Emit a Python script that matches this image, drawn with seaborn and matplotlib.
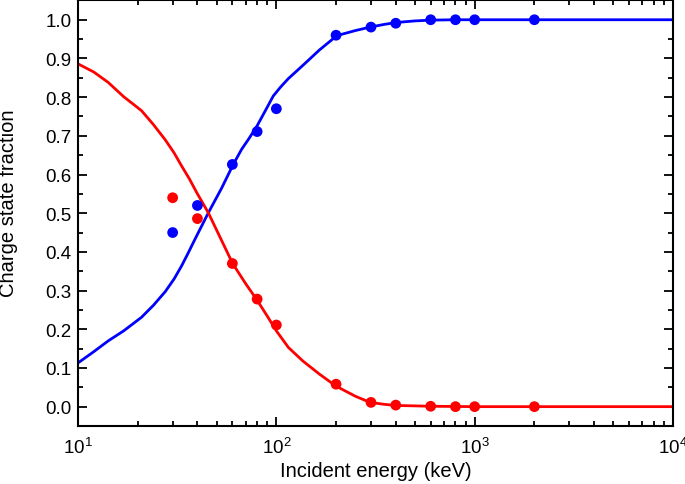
import numpy as np
import pandas as pd
import matplotlib
matplotlib.use("Agg")
import matplotlib.pyplot as plt
import matplotlib.ticker as mticker
import seaborn as sns

# Measured data points
energy_pts = [30, 40, 60, 80, 100, 200, 300, 400, 600, 800, 1000, 2000]
blue_pts = [0.45, 0.52, 0.626, 0.711, 0.770, 0.960, 0.981, 0.991, 1.0, 1.0, 1.0, 1.0]
red_pts = [0.54, 0.486, 0.370, 0.278, 0.211, 0.058, 0.011, 0.004, 0.001, 0.0, 0.0, 0.0]

# Fitted curves
red_curve_E = [10, 12, 14.2, 17, 20.9, 24, 27.5, 30.5, 33.3, 36.5, 39.7, 45.4, 52, 60.2, 70, 80, 90, 100, 115, 136, 165, 200, 250, 297, 350, 404, 500, 600, 800, 1000, 10000]
red_curve_v = [0.886, 0.865, 0.838, 0.801, 0.765, 0.729, 0.690, 0.656, 0.622, 0.588, 0.553, 0.501, 0.438, 0.370, 0.318, 0.275, 0.234, 0.196, 0.153, 0.118, 0.084, 0.053, 0.027, 0.011, 0.006, 0.003, 0.002, 0.001, 0.0005, 0.0, 0.0]
blue_curve_E = [10, 12, 14.2, 17, 20.9, 24, 27.5, 30.5, 33.3, 36, 38.9, 45.4, 53, 60.6, 66.8, 73, 80, 88, 96.5, 105, 115, 136, 165, 202, 250, 297, 350, 404, 500, 600, 800, 1000, 10000]
blue_curve_v = [0.113, 0.142, 0.170, 0.196, 0.231, 0.262, 0.297, 0.330, 0.364, 0.398, 0.433, 0.501, 0.565, 0.626, 0.665, 0.694, 0.726, 0.765, 0.803, 0.826, 0.848, 0.882, 0.922, 0.959, 0.972, 0.981, 0.988, 0.993, 0.997, 0.999, 1.0, 1.0, 1.0]

sns.set_style("ticks")
plt.rcParams["font.family"] = ["Liberation Sans", "DejaVu Sans"]
plt.rcParams["mathtext.fontset"] = "custom"
plt.rcParams["mathtext.rm"] = "Liberation Sans"
plt.rcParams["mathtext.it"] = "Liberation Sans"

fig = plt.figure(figsize=(6.85, 4.85), dpi=100)
ax = fig.add_axes([0.1139, 0.1196, 0.8686, 0.8775])

df_red = pd.DataFrame({"E": red_curve_E, "v": red_curve_v})
df_blue = pd.DataFrame({"E": blue_curve_E, "v": blue_curve_v})
sns.lineplot(data=df_blue, x="E", y="v", ax=ax, color="#0000ff", linewidth=2.0, sort=False)
sns.lineplot(data=df_red, x="E", y="v", ax=ax, color="#ff0000", linewidth=2.0, sort=False)

df_pts = pd.DataFrame({"E": energy_pts, "blue": blue_pts, "red": red_pts})
sns.scatterplot(data=df_pts, x="E", y="blue", ax=ax, color="#0000ff", s=60, edgecolor="none", zorder=5)
sns.scatterplot(data=df_pts, x="E", y="red", ax=ax, color="#ff0000", s=60, edgecolor="none", zorder=5)

ax.set_xscale("log")
ax.set_xlim(10, 10000)
ax.set_ylim(-0.05, 1.05)
ax.yaxis.set_major_locator(mticker.MultipleLocator(0.1))
ax.yaxis.set_minor_locator(mticker.MultipleLocator(0.05))
ax.yaxis.set_major_formatter(mticker.FormatStrFormatter("%.1f"))
ax.xaxis.set_major_locator(mticker.LogLocator(base=10, numticks=10))
ax.xaxis.set_minor_locator(mticker.LogLocator(base=10, subs=np.arange(2, 10), numticks=20))
ax.xaxis.set_major_formatter(mticker.LogFormatterMathtext())
ax.xaxis.set_minor_formatter(mticker.NullFormatter())

for s in ax.spines.values():
    s.set_visible(True)
    s.set_linewidth(1.5)
    s.set_color("black")
ax.tick_params(which="both", direction="in", top=True, right=True, width=1.3, colors="black", labelsize=13.5)
ax.tick_params(which="major", length=6.5, pad=4.5)
ax.tick_params(which="minor", length=3.5)
ax.tick_params(axis="x", which="major", pad=8)

ax.set_xlabel("Incident energy (keV)", fontsize=14.5, labelpad=2.5, color="black")
ax.set_ylabel("Charge state fraction", fontsize=14.5, color="black")
ax.yaxis.set_label_coords(-0.101, 0.526)

fig.savefig("out.png", dpi=100)
